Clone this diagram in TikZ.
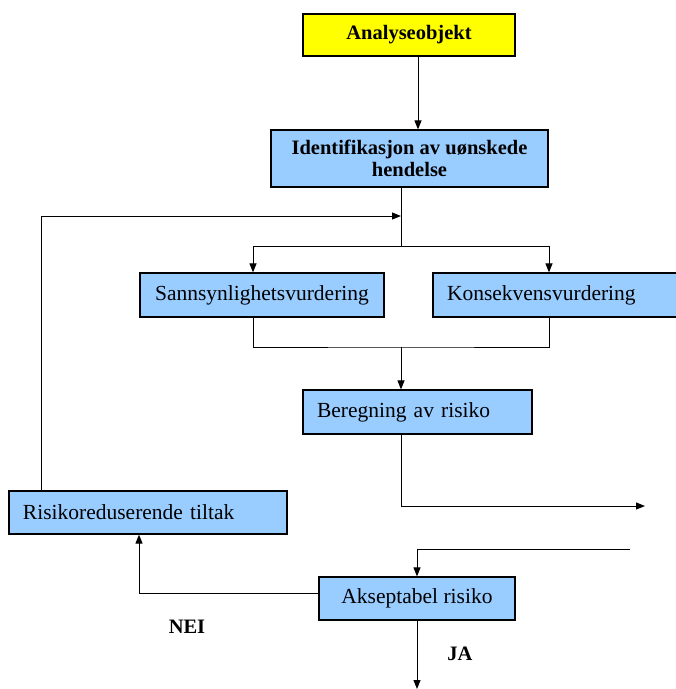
\documentclass[tikz,border=0pt]{standalone}
\usepackage{fontspec}
\setmainfont{Liberation Serif}
\usetikzlibrary{arrows.meta}
\definecolor{boxblue}{RGB}{153,204,255}
\definecolor{boxyellow}{RGB}{255,255,0}

\begin{document}
\begin{tikzpicture}[x=1pt,y=-1pt,
  every node/.style={font=\fontsize{21.5}{22}\selectfont},
  bold/.style={font=\fontsize{20.5}{22}\selectfont\bfseries},
  box/.style={draw,line width=1.2pt,fill=boxblue,inner sep=0pt},
  lbox/.style={box,align=left,inner xsep=14pt},
  flow/.style={line width=1pt,-{Triangle[length=9pt,width=7pt]}}]

\useasboundingbox (0,0) rectangle (676,689);

\node[box,bold,fill=boxyellow,minimum width=212pt,minimum height=42pt] (ana) at (409,35) {Analyseobjekt};

\node[box,bold,align=center,minimum width=277pt,minimum height=57pt] (ident) at (409.5,158.5) {Identifikasjon av uønskede\\hendelse};

\node[box,minimum width=244pt,minimum height=44pt] (sann) at (262,295) {Sannsynlighetsvurdering};

\node[lbox,text width=217pt,minimum height=44pt] (kons) at (555.5,295) {Konsekvensvurdering};

\node[lbox,text width=201pt,minimum height=44pt] (ber) at (417.5,412) {Beregning av risiko};

\node[lbox,text width=250pt,minimum height=43pt] (risk) at (148,512.5) {Risikoreduserende tiltak};

\node[box,minimum width=196pt,minimum height=43pt] (aksept) at (417,598.5) {Akseptabel risiko};

\node[bold] (nei) at (187,627) {NEI};

\node[bold] (ja) at (460,654) {JA};

\coordinate (split) at (401,246);
\coordinate (join) at (401,347);
\coordinate (fb) at (41,216);
\coordinate (out) at (645,506);
\coordinate (in) at (630,549);
\coordinate (end) at (417,689);

\draw[flow] ([xshift=9pt]ana.south) -- ([xshift=9pt]ana.south |- ident.north);
\draw[line width=1pt] (ident.south -| split) -- (split);
\draw[flow] (split) -| ([xshift=-9pt]sann.north);
\draw[flow] (split) -| ([xshift=-6.5pt]kons.north);
\draw[line width=1pt] ([xshift=-9pt]sann.south) |- (join) -| ([xshift=-6.5pt]kons.south);
\draw[flow] (join) -- (join |- ber.north);
\draw[flow] (join |- ber.south) |- (out);
\draw[flow] (in) -| (aksept.north);
\draw[flow] ([yshift=5.5pt]aksept.west) -| ([xshift=-9pt]risk.south);
\draw[flow] (risk.north -| fb) |- (split |- fb);
\draw[flow] (aksept.south) -- (end);

\end{tikzpicture}
\end{document}
